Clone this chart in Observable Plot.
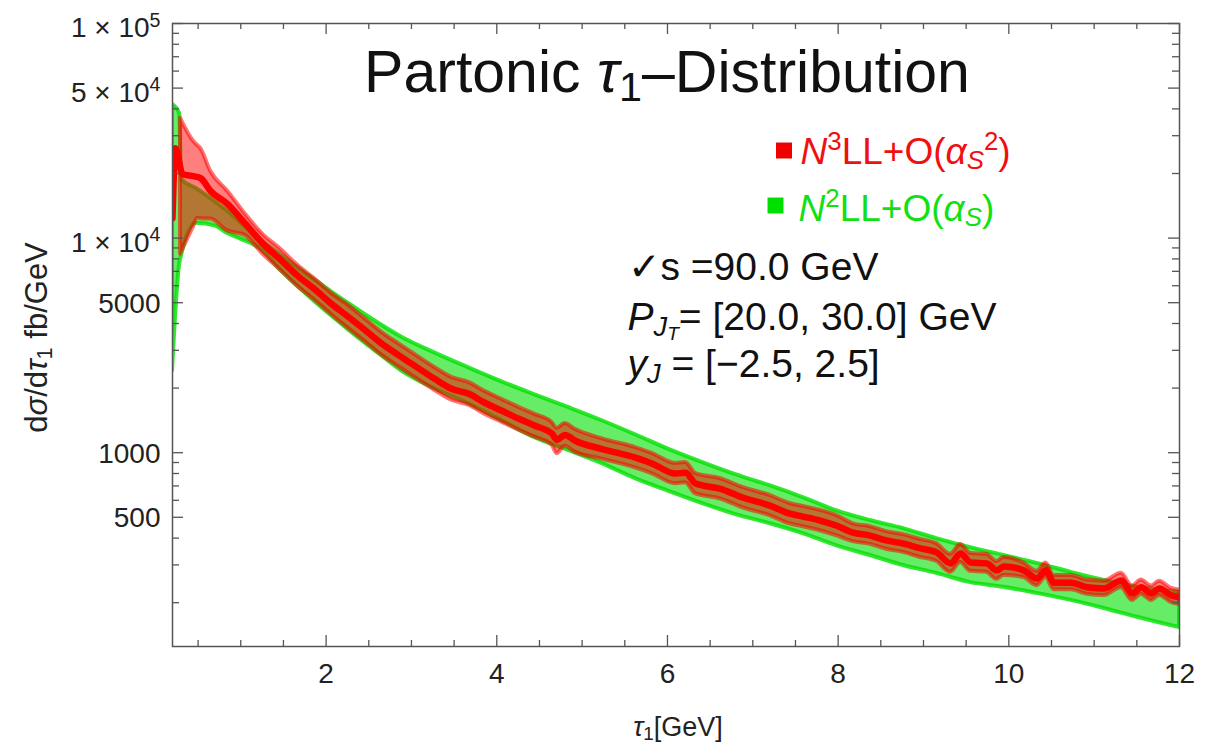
<!DOCTYPE html>
<html><head><meta charset="utf-8">
<script src="https://cdn.jsdelivr.net/npm/d3@7"></script>
<script src="https://cdn.jsdelivr.net/npm/@observablehq/plot@0.6"></script>
<style>body{margin:0;background:#fff}</style>
</head><body><div id="chart"></div>
<script>
// ---------- data ----------
// N2LL+O(alpha_s) band
const greenX  = [0.2, 0.285, 0.306, 0.482, 0.706, 0.847, 1.0, 1.235, 1.471, 1.671, 1.859, 2.059, 2.259, 2.447, 2.647, 2.882, 3.271, 3.671, 4.059, 4.447, 4.847, 5.235, 5.624, 6.024, 6.412, 6.8, 7.2, 7.588, 7.976, 8.376, 8.765, 9.153, 9.553, 9.941, 10.329, 10.729, 11.118, 11.506, 12.0];
const greenHi = [42000, 38000, 18810, 17000, 14700, 13350, 11800, 9788, 8318, 7268, 6418, 5630, 4970, 4431, 3938, 3463, 2918, 2485, 2139, 1862, 1620, 1409, 1212, 1033, 899, 790, 702, 618, 537, 483, 443, 398, 361, 332, 305, 277, 254, 236, 223];
const greenLo = [2406, 7600, 8300, 11740, 11370, 10500, 9890, 8889, 7054, 5943, 5093, 4356, 3745, 3266, 2838, 2406, 1985, 1690, 1409, 1174, 1022, 889, 757, 659, 579, 515, 467, 420, 369, 332, 298, 274, 248, 236, 221, 205, 188, 171, 153];

// N3LL+O(alpha_s^2) band
const redBandX = [0.294, 0.447, 0.494, 0.529, 0.647, 0.847, 1.05, 1.25, 1.471, 1.671, 1.859, 2.059, 2.259, 2.447, 2.647, 2.847, 3.0, 3.271, 3.471, 3.671, 3.859, 4.059, 4.259, 4.447, 4.647, 4.706, 4.8, 4.918, 5.235, 5.624, 5.824, 6.094, 6.212, 6.329, 6.612, 6.882, 7.2, 7.435, 7.588, 7.788, 7.976, 8.176, 8.376, 8.565, 8.765, 8.965, 9.153, 9.318, 9.435, 9.553, 9.741, 9.859, 9.941, 10.176, 10.329, 10.435, 10.529, 10.729, 10.918, 11.118, 11.318, 11.447, 11.553, 11.671, 11.765, 11.906, 12.0];
const redBandLo = [8425, 11300, 12390, 12300, 12260, 10800, 10300, 8500, 7054, 5937, 5179, 4420, 3805, 3319, 2858, 2522, 2301, 1955, 1757, 1665, 1512, 1388, 1273, 1181, 1085, 990, 1071, 1006, 933, 850, 797, 717, 724, 644, 610, 554, 509, 466, 452, 433, 411, 385, 374, 355, 343, 325, 312, 277, 308, 280, 277, 257, 268, 262, 240, 262, 230, 230, 219, 216, 235, 205, 219, 205, 216, 200, 196];
const redBandHi = [36150, 28260, 27000, 26220, 20490, 16540, 13000, 10500, 8848, 7448, 6496, 5544, 4859, 4238, 3650, 3221, 2938, 2496, 2243, 2126, 1931, 1772, 1626, 1509, 1385, 1300, 1367, 1285, 1160, 1057, 991, 891, 900, 801, 758, 689, 632, 580, 562, 539, 511, 466, 452, 429, 415, 394, 377, 336, 373, 339, 336, 311, 325, 306, 280, 306, 268, 268, 255, 252, 274, 239, 255, 239, 252, 233, 229];

// N3LL+O(alpha_s^2) central curve
const redX = [0.2, 0.235, 0.318, 0.447, 0.529, 0.647, 0.847, 1.05, 1.25, 1.471, 1.671, 1.859, 2.059, 2.259, 2.447, 2.647, 2.847, 3.0, 3.271, 3.471, 3.671, 3.859, 4.059, 4.259, 4.447, 4.647, 4.706, 4.8, 4.918, 5.235, 5.624, 5.824, 6.094, 6.212, 6.329, 6.612, 6.882, 7.2, 7.435, 7.588, 7.788, 7.976, 8.176, 8.376, 8.565, 8.765, 8.965, 9.153, 9.318, 9.435, 9.553, 9.741, 9.859, 9.941, 10.176, 10.329, 10.435, 10.529, 10.729, 10.918, 11.118, 11.318, 11.447, 11.553, 11.671, 11.765, 11.906, 12.0];
const redY = [12390, 26220, 19840, 19430, 19020, 16540, 14390, 11700, 9500, 7900, 6650, 5800, 4950, 4300, 3750, 3230, 2850, 2600, 2209, 1985, 1881, 1709, 1568, 1439, 1335, 1226, 1150, 1210, 1137, 1040, 948, 889, 799, 807, 718, 680, 618, 567, 520, 504, 483, 458, 424, 411, 390, 377, 358, 343, 305, 339, 308, 305, 283, 295, 283, 259, 283, 248, 248, 236, 233, 254, 221, 236, 221, 233, 216, 212];

// ticks
const xMajorTicks = [2, 4, 6, 8, 10, 12];
const xMinorTicks = [0.5, 1, 1.5, 2.5, 3, 3.5, 4.5, 5, 5.5, 6.5, 7, 7.5, 8.5, 9, 9.5, 10.5, 11, 11.5];
const yMajorTicks = [500, 1000, 5000, 10000, 50000, 100000];
const yTickLabels = ["500", "1000", "5000", "1 × 10^{4}", "5 × 10^{4}", "1 × 10^{5}"];
const yMinorTicks = [200, 300, 400, 600, 700, 800, 900, 2000, 3000, 4000, 6000, 7000, 8000, 9000, 20000, 30000, 40000, 60000, 70000, 80000, 90000];

// texts
const titleText = "Partonic ~{τ}_{1}–Distribution";
const legendLabels = ["~{N}^{3}LL+O(~{α}_{~{S}}^{2})", "~{N}^{2}LL+O(~{α}_{~{S}})"];
const annotations = ["✓s =90.0 GeV", "~{P}_{~{J}_{~{T}}}= [20.0, 30.0] GeV", "~{y}_{~{J}} = [−2.5, 2.5]"];
const xLabel = "~{τ}_{1}[GeV]";
const yLabel = "d~{σ}/d~{τ}_{1} fb/GeV";

// ---------- tables ----------
const green = greenX.map((x, i) => ({x, lo: greenLo[i], hi: greenHi[i]}));
const redBand = redBandX.map((x, i) => ({x, lo: redBandLo[i], hi: redBandHi[i]}));
const red = redX.map((x, i) => ({x, y: redY[i]}));
const yTickTable = yMajorTicks.map((v, i) => ({v, label: yTickLabels[i]}));

// ---------- layout ----------
const ML = 172, MR = 37, MT = 23, MB = 100, WIDTH = 1216, HEIGHT = 746;
const IW = WIDTH - ML - MR, IH = HEIGHT - MT - MB;
const tickCol = "#555";
const RED = "#ff0000", GREEN = "#00e000";
const T = (s, o) => Plot.text([s], {text: d => d, lineAnchor: "middle", ...o});

const marks = [
  // bands
  Plot.areaY(green, {x: "x", y1: "lo", y2: "hi", curve: "monotone-x", fill: GREEN, fillOpacity: 0.6, stroke: GREEN, strokeOpacity: 0.8, strokeWidth: 4, clip: true}),
  Plot.areaY(redBand, {x: "x", y1: "lo", y2: "hi", curve: "monotone-x", fill: RED, fillOpacity: 0.5, stroke: RED, strokeOpacity: 0.55, strokeWidth: 4, clip: true}),
  Plot.line(red, {x: "x", y: "y", curve: "monotone-x", stroke: RED, strokeWidth: 6.5, clip: true}),
  // frame + ticks (inside, on all four sides)
  Plot.frame({stroke: "#555", strokeWidth: 1.5}),
  Plot.ruleX(xMajorTicks, {x: d => d, insetTop: IH - 11, stroke: tickCol, strokeWidth: 1.3}),
  Plot.ruleX(xMajorTicks, {x: d => d, insetBottom: IH - 11, stroke: tickCol, strokeWidth: 1.3}),
  Plot.ruleX(xMinorTicks, {x: d => d, insetTop: IH - 6, stroke: tickCol, strokeWidth: 1.3}),
  Plot.ruleX(xMinorTicks, {x: d => d, insetBottom: IH - 6, stroke: tickCol, strokeWidth: 1.3}),
  Plot.ruleY(yMajorTicks, {y: d => d, insetRight: IW - 11, stroke: tickCol, strokeWidth: 1.3}),
  Plot.ruleY(yMajorTicks, {y: d => d, insetLeft: IW - 11, stroke: tickCol, strokeWidth: 1.3}),
  Plot.ruleY(yMinorTicks, {y: d => d, insetRight: IW - 7, stroke: tickCol, strokeWidth: 1.3}),
  Plot.ruleY(yMinorTicks, {y: d => d, insetLeft: IW - 7, stroke: tickCol, strokeWidth: 1.3}),
  // x tick labels
  Plot.axisX({ticks: xMajorTicks, tickSize: 0, tickPadding: 17, fontSize: 28, label: null, tickFormat: d => String(d), fill: "#222"}),
  // y tick labels
  Plot.text(yTickTable, {y: "v", text: "label", filter: d => !d.label.includes("^"), frameAnchor: "left", dx: -12, dy: 1, textAnchor: "end", lineAnchor: "middle", fontSize: 28, fill: "#222"}),
  Plot.text(yTickTable, {y: "v", text: "label", filter: d => d.label.includes("^"), frameAnchor: "left", dx: -12, dy: 5, textAnchor: "end", lineAnchor: "middle", fontSize: 28, fill: "#222"}),
  // axis titles
  T(xLabel, {frameAnchor: "bottom", dx: 2, dy: 81, fontSize: 27, fill: "#222"}),
  T(yLabel, {frameAnchor: "left", dx: -135, dy: 2.5, rotate: -90, textAnchor: "middle", fontSize: 31, fill: "#222"}),
  // title
  T(titleText, {frameAnchor: "top", dx: -9, dy: 50, textAnchor: "middle", fontSize: 59, fill: "#111"}),
  // legend
  Plot.dot([0], {frameAnchor: "top-left", dx: 783.5 - ML, dy: 150 - MT, symbol: "square", r: 9, fill: "#f00000", stroke: null}),
  Plot.dot([0], {frameAnchor: "top-left", dx: 775 - ML, dy: 205 - MT, symbol: "square", r: 9, fill: "#00e000", stroke: null}),
  T(legendLabels[0], {frameAnchor: "top-left", dx: 800 - ML, dy: 151.5 - MT, textAnchor: "start", fontSize: 37, fill: "#f01010"}),
  T(legendLabels[1], {frameAnchor: "top-left", dx: 798 - ML, dy: 208.5 - MT, textAnchor: "start", fontSize: 37, fill: "#12e012"}),
  // annotations
  T(annotations[0], {frameAnchor: "top-left", dx: 627 - ML, dy: 267.5 - MT, textAnchor: "start", fontSize: 39, fill: "#111"}),
  T(annotations[1], {frameAnchor: "top-left", dx: 627 - ML, dy: 317.5 - MT, textAnchor: "start", fontSize: 39, fill: "#111"}),
  T(annotations[2], {frameAnchor: "top-left", dx: 627 - ML, dy: 364 - MT, textAnchor: "start", fontSize: 39, fill: "#111"})
];

const svg = Plot.plot({
  width: WIDTH, height: HEIGHT,
  marginLeft: ML, marginRight: MR, marginTop: MT, marginBottom: MB,
  x: {domain: [0.2, 12]},
  y: {type: "log", domain: [125, 100000], axis: null},
  style: {fontFamily: "'Liberation Sans', Arial, Helvetica, sans-serif", background: "#fff", overflow: "visible"},
  marks
});
document.getElementById("chart").appendChild(svg);

// ---------- rich text: ^{sup} _{sub} ~{italic} ----------
function parseRich(s, scale, shift, italic, out, fs) {
  let buf = "";
  const flush = () => { if (buf) { out.push({text: buf, scale, shift, italic}); buf = ""; } };
  for (let i = 0; i < s.length; i++) {
    const c = s[i];
    if ((c === "^" || c === "_" || c === "~") && s[i + 1] === "{") {
      flush();
      let depth = 1, j = i + 2;
      for (; j < s.length; j++) {
        if (s[j] === "{") depth++;
        else if (s[j] === "}" && --depth === 0) break;
      }
      const inner = s.slice(i + 2, j);
      if (c === "~") parseRich(inner, scale, shift, true, out, fs);
      else if (c === "^") parseRich(inner, scale * 0.7, shift - 0.38 * fs * scale, italic, out, fs);
      else parseRich(inner, scale * 0.7, shift + 0.15 * fs * scale, italic, out, fs);
      i = j;
    } else buf += c;
  }
  flush();
}
svg.querySelectorAll("text").forEach(t => {
  const s = t.textContent;
  if (!/[\^_~]\{/.test(s)) return;
  const fs = parseFloat(getComputedStyle(t).fontSize) || 16;
  const runs = [];
  parseRich(s, 1, 0, false, runs, fs);
  while (t.firstChild) t.removeChild(t.firstChild);
  let cur = 0;
  runs.forEach(r => {
    const ts = document.createElementNS("http://www.w3.org/2000/svg", "tspan");
    ts.textContent = r.text;
    if (r.scale !== 1) ts.setAttribute("font-size", (fs * r.scale).toFixed(2));
    if (r.italic) ts.setAttribute("font-style", "italic");
    const d = r.shift - cur;
    if (Math.abs(d) > 0.01) ts.setAttribute("dy", d.toFixed(2));
    cur = r.shift;
    t.appendChild(ts);
  });
});
</script>
</body></html>
